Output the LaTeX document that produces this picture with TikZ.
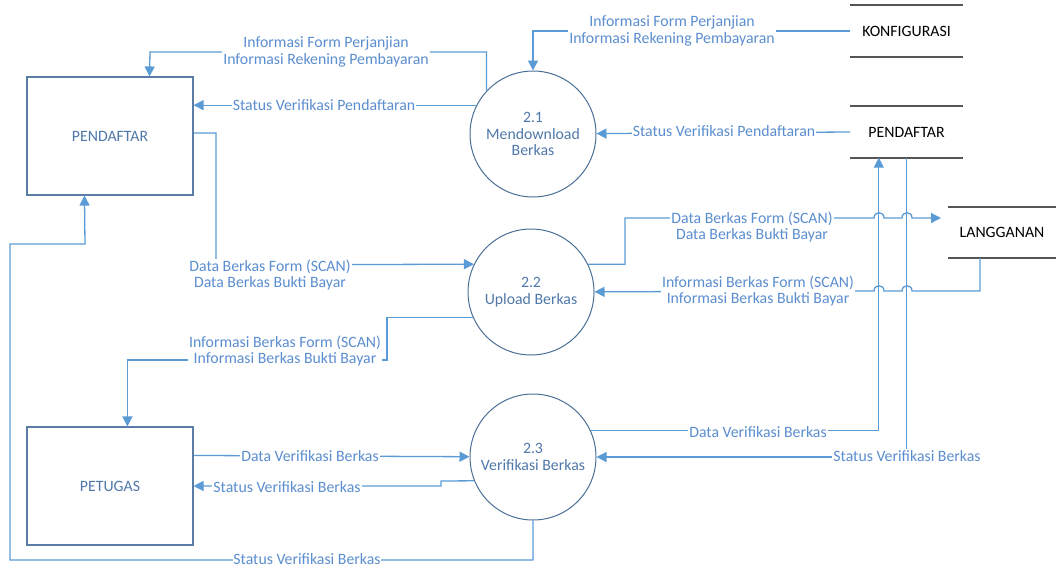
\documentclass[tikz,border=0pt]{standalone}
\usepackage{fontspec}
\setmainfont{Carlito}
\usetikzlibrary{calc,arrows.meta}
\definecolor{flowc}{HTML}{5B9BD5}
\definecolor{lblc}{HTML}{5B8ED0}
\definecolor{procc}{HTML}{4A6F96}
\definecolor{proct}{HTML}{4F78AA}
\definecolor{boxc}{HTML}{5A7DA6}
\definecolor{storec}{HTML}{555555}
\begin{document}
\begin{tikzpicture}[x=1pt,y=-1pt,
  font=\fontsize{15.8}{16.8}\selectfont,
  flow/.style={draw=flowc,line width=1.3pt,-{Triangle[length=10pt,width=10pt]}},
  lbl/.style={fill=white,text=lblc,inner sep=1pt,align=center},
  proc/.style={circle,draw=procc,line width=1pt,minimum size=126pt,text=proct,align=center,inner sep=0pt},
  entity/.style={rectangle,draw=boxc,line width=1.1pt,minimum width=166pt,minimum height=118pt,text=proct},
  store/.style={rectangle,minimum width=113pt,minimum height=51pt,inner sep=0pt,text=black}]
\useasboundingbox (0,0) rectangle (1056,568);
% nodes
\node[entity] (pendaftar) at (110,136) {PENDAFTAR};
\node[entity] (petugas) at (110,486) {PETUGAS};
\node[proc] (p1) at (533,134) {2.1\\Mendownload\\Berkas};
\node[proc] (p2) at (531,292) {2.2\\Upload Berkas};
\node[proc] (p3) at (533,457) {2.3\\Verifikasi Berkas};
\node[store] (konf) at (906.5,31) {KONFIGURASI};
\node[store] (pstore) at (906.5,132) {PENDAFTAR};
\node[store,minimum width=108pt] (lang) at (1002,232.5) {LANGGANAN};
\foreach \s in {konf,pstore,lang}{
  \draw[storec,line width=1.7pt] (\s.north west) -- (\s.north east);
  \draw[storec,line width=1.7pt] (\s.south west) -- (\s.south east);
}
% 1 konfigurasi -> 2.1
\draw[flow] (konf.west) -| (p1);
\node[lbl] (l1) at (672,31) {Informasi Form Perjanjian\\Informasi Rekening Pembayaran};
% 2 2.1 -> pendaftar
\draw[flow] (p1.137) |- (150,52) -- ($(pendaftar.north west)+(123,0)$);
\node[lbl] (l2) at (326,52) {Informasi Form Perjanjian\\Informasi Rekening Pembayaran};
% 3 2.1 -> pendaftar status
\draw[flow] (p1.153) -- (p1.153 -| pendaftar.east);
\node[lbl] (l3) at (324,105) {Status Verifikasi Pendaftaran};
% 4 pstore -> 2.1
\draw[flow] (pstore.west) -- (p1);
\node[lbl] (l4) at (724,131) {Status Verifikasi Pendaftaran};
% 5 pendaftar -> 2.2
\draw[flow] ($(pendaftar.east)+(0,-3)$) -| (216,265) -- (p2.154);
\node[lbl] (l5) at (270,275) {Data Berkas Form (SCAN)\\Data Berkas Bukti Bayar};
% 6 2.2 -> langganan
\draw[flow] (p2.26) -| (625,218) -- (874,218) .. controls (874,211) and (884,211) .. (884,218)
  -- (902,218) .. controls (902,211) and (912,211) .. (912,218) -- (941,218);
\node[lbl] (l6) at (752,227) {Data Berkas Form (SCAN)\\Data Berkas Bukti Bayar};
% 7 langganan -> 2.2
\draw[flow] (lang.south -| 980,0) |- (912,291) .. controls (912,284) and (902,284) .. (902,291)
  -- (884,291) .. controls (884,284) and (874,284) .. (874,291) -- (p2);
\node[lbl] (l7) at (758,291) {Informasi Berkas Form (SCAN)\\Informasi Berkas Bukti Bayar};
% 8 2.2 -> petugas
\draw[flow] (p2.204) -| (387,360) -| ($(petugas.north west)+(101,0)$);
\node[lbl] (l8) at (285,351) {Informasi Berkas Form (SCAN)\\Informasi Berkas Bukti Bayar};
% 9 petugas -> 2.3
\draw[flow] ($(petugas.north east)+(0,29)$) -- (p3);
\node[lbl] (l9) at (310,456) {Data Verifikasi Berkas};
% 10 2.3 -> petugas
\draw[flow] (p3.202) -- (441,481) -- (441,486) -- (petugas.east);
\node[lbl] (l10) at (287,487) {Status Verifikasi Berkas};
% 11 2.3 -> pendaftar
\draw[flow] (p3.south) |- (10,560) |- (85,244) -- ($(pendaftar.south west)+(58,0)$);
\node[lbl,inner sep=0.3pt] (l11) at (307,559) {Status Verifikasi Berkas};
% 12 2.3 -> pstore
\draw[flow] (p3.25) -| ($(pstore.south west)+(29,0)$);
\node[lbl] (l12) at (758,432) {Data Verifikasi Berkas};
% 13 pstore -> 2.3
\draw[flow] ($(pstore.south west)+(57,0)$) |- (p3);
\node[lbl] (l13) at (907,456) {Status Verifikasi Berkas};
\end{tikzpicture}
\end{document}
